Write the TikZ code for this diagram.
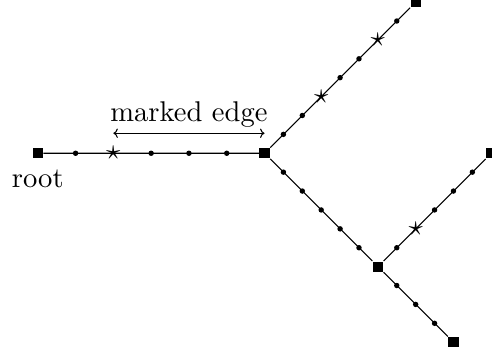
\documentclass[tikz,border=0pt]{standalone}
\usepackage{tikz}
\usetikzlibrary{arrows.meta,calc,positioning}

\begin{document}
\begin{tikzpicture}[line width=0.8pt,
    vertex/.style={fill=black,inner sep=0pt,minimum size=0.27cm},
    starmark/.style={inner sep=0pt,scale=2.15},
    lbl/.style={scale=2.15}]
        \useasboundingbox (-1.0,-5.415) rectangle (12.02,4.056);
        % branch points and leaves
        \node[vertex] (root) at (0,0) {};
        \node[vertex] (fork) at (6,0) {};
        \node[vertex] (top) at (10,4) {};
        \node[vertex] (mid) at (9,-3) {};
        \node[vertex] (right) at (12,0) {};
        \node[vertex] (bottom) at (11,-5) {};
        \draw (root) -- (fork) -- (top);
        \draw (fork) -- (mid) -- (right);
        \draw (mid) -- (bottom);
        % points on the edges
        \foreach \i in {1,3,4,5}{\fill ($(root)!\i/6!(fork)$) circle (.072);}
        \foreach \i in {1,2,4,5,7}{\fill ($(fork)!\i/8!(top)$) circle (.072);}
        \foreach \i in {1,...,5}{\fill ($(fork)!\i/6!(mid)$) circle (.072);}
        \foreach \i in {1,3,4,5}{\fill ($(mid)!\i/6!(right)$) circle (.072);}
        \foreach \i in {1,2,3}{\fill ($(mid)!\i/4!(bottom)$) circle (.072);}
        \foreach \a/\b/\p/\q [count=\k] in {root/fork/2/6,fork/top/3/8,fork/top/6/8,mid/right/2/6}{
          \node[starmark] (star\k) at ($(\a)!\p/\q!(\b)$) {$\star$};}
        \node[lbl,below=0pt of root] (rootlbl) {root};
        \draw[<->] ([yshift=0.53cm]star1.center) -- ([yshift=0.53cm]fork.center)
          node[lbl,midway,above,inner sep=1.6pt] (marklbl) {marked edge};
      \end{tikzpicture}
\end{document}
